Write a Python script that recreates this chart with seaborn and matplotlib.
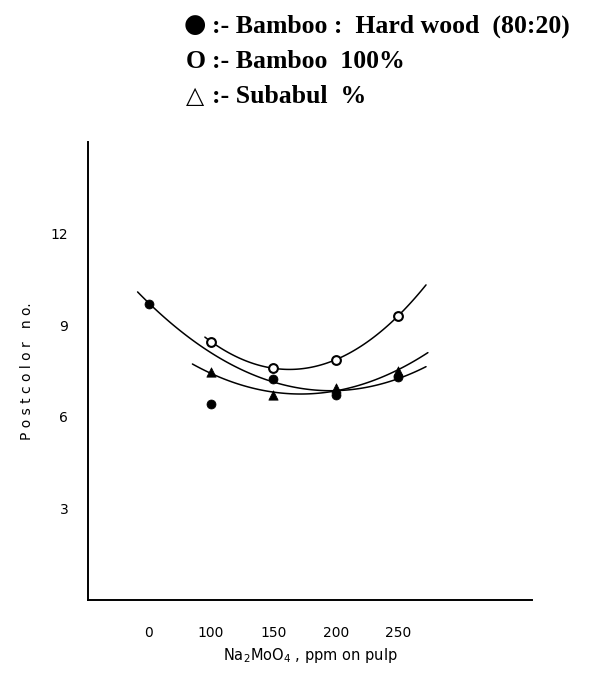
import numpy as np
import pandas as pd
import matplotlib
matplotlib.use("Agg")
import matplotlib.pyplot as plt
import seaborn as sns

# dose levels (evenly spaced on the axis, as in the original figure)
doses = ["0", "100", "150", "200", "250"]

# postcolor numbers
hardwood = [9.7, 6.4, 7.25, 6.7, 7.3]          # Bamboo : Hardwood (80:20)
bamboo = [np.nan, 8.45, 7.6, 7.85, 9.3]        # Bamboo 100%
subabul = [np.nan, 7.45, 6.7, 6.95, 7.5]       # Subabul
hardwood_outlier = "100"                       # point left out of the fitted curve

yticks = [3, 6, 9, 12]

sns.set_style("white")
plt.rcParams["font.family"] = ["DejaVu Sans"]

pos = np.arange(len(doses))
df = pd.DataFrame({"pos": pos, "dose": doses, "hardwood": hardwood,
                   "bamboo": bamboo, "subabul": subabul})

fig = plt.figure(figsize=(5.93, 6.79), dpi=100)
ax = fig.add_axes([0.148, 0.1163, 0.749, 0.675])


def fit_curve(x, y, x0, x1):
    ok = ~np.isnan(y)
    c = np.polyfit(x[ok], y[ok], 2)
    xs = np.linspace(x0, x1, 120)
    return pd.DataFrame({"x": xs, "y": np.polyval(c, xs)})


fit_hw = df[df["dose"] != hardwood_outlier]
curves = [
    fit_curve(fit_hw["pos"].to_numpy(), fit_hw["hardwood"].to_numpy(), -0.18, 4.45),
    fit_curve(pos, df["bamboo"].to_numpy(), 0.9, 4.45),
    fit_curve(pos, df["subabul"].to_numpy(), 0.7, 4.48),
]
for c in curves:
    sns.lineplot(data=c, x="x", y="y", ax=ax, color="black", lw=1.1, sort=False)

sns.scatterplot(data=df, x="pos", y="hardwood", ax=ax, marker="o", s=42,
                color="black", edgecolor="black", zorder=5)
sns.scatterplot(data=df, x="pos", y="bamboo", ax=ax, marker="o", s=40,
                facecolor="white", edgecolor="black", linewidth=1.5, zorder=5)
sns.scatterplot(data=df, x="pos", y="subabul", ax=ax, marker="^", s=45,
                color="black", edgecolor="black", zorder=5)

ax.set_xlim(-0.98, 6.15)
ax.set_ylim(0, 15)
ax.set_xticks(pos)
ax.set_xticklabels(doses)
ax.set_yticks(yticks)
ax.tick_params(axis="x", length=0, pad=19, labelsize=10, labelcolor="black")
ax.tick_params(axis="y", length=3, width=1, direction="out", pad=11, labelsize=10,
               labelcolor="black")
for s in ["top", "right"]:
    ax.spines[s].set_visible(False)
for s in ["left", "bottom"]:
    ax.spines[s].set_linewidth(1.4)
    ax.spines[s].set_color("black")

ax.set_xlabel(r"Na$_2$MoO$_4$ , ppm on pulp", fontsize=10.5, labelpad=4, color="black")
ax.set_ylabel("P o s t c o l o r   n o.", fontsize=10, labelpad=12, color="black")

# key printed above the plot
serif = dict(family=["Liberation Serif", "DejaVu Sans"], fontweight="bold",
             fontsize=18.5, color="black", va="baseline")
sym_x, txt_x = 186 / 593, 212 / 593
base_y = [1 - 33 / 679, 1 - 68 / 679, 1 - 103 / 679]
fig.text(sym_x - 0.004, base_y[0] + 0.001, "\u25CF", family="DejaVu Sans",
         fontsize=18.5, va="baseline", color="black")
fig.text(txt_x, base_y[0], ":- Bamboo :  Hard wood  (80:20)", **serif)
fig.text(sym_x, base_y[1], "O", **serif)
fig.text(txt_x, base_y[1], ":- Bamboo  100%", **serif)
fig.text(sym_x, base_y[2], "\u25B3", **{**serif, "fontweight": "normal", "fontsize": 17})
fig.text(txt_x, base_y[2], ":- Subabul  %", **serif)

fig.savefig("out.png", dpi=100)
